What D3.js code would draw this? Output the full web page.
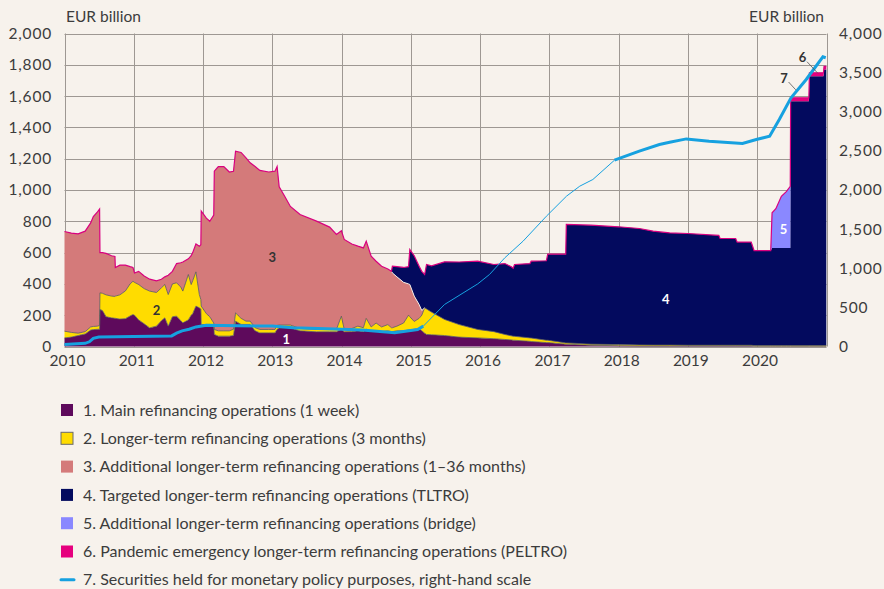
<!DOCTYPE html>
<html>
<head>
<meta charset="utf-8">
<script src="https://cdn.jsdelivr.net/npm/d3@7"></script>
<style>
  body { margin: 0; background: #f7f2ec; }
  svg { display: block; font-family: Lato, "Open Sans", sans-serif; }
</style>
</head>
<body>
<div id="chart"></div>
<script>
// dates of the stacked series (EUR billion, left-hand scale)
var dates = ["2010-01-01","2010-02-06","2010-03-14","2010-04-20","2010-05-19","2010-06-02","2010-06-24","2010-07-05","2010-07-07","2010-07-20",
  "2010-08-08","2010-09-06","2010-09-24","2010-09-26","2010-10-20","2010-11-18","2010-12-13","2010-12-28","2011-01-05","2011-01-27",
  "2011-02-25","2011-03-26","2011-05-01","2011-05-27","2011-06-14","2011-07-02","2011-07-24","2011-08-15","2011-09-06","2011-09-17",
  "2011-10-16","2011-10-31","2011-11-08","2011-11-25","2011-12-13","2011-12-21","2011-12-23","2012-01-19","2012-02-06","2012-02-27",
  "2012-03-01","2012-03-22","2012-04-20","2012-05-19","2012-06-10","2012-06-21","2012-07-20","2012-08-15","2012-09-06","2012-10-02",
  "2012-10-27","2012-12-13","2013-01-15","2013-01-26","2013-02-06","2013-03-07","2013-04-06","2013-05-27","2013-08-22","2013-10-30",
  "2013-12-05","2013-12-31","2014-01-15","2014-02-24","2014-03-28","2014-04-26","2014-05-11","2014-06-06","2014-07-02","2014-07-31",
  "2014-09-02","2014-09-21","2014-09-26","2014-10-20","2014-11-24","2014-12-20","2014-12-27","2015-01-19","2015-02-14","2015-02-28",
  "2015-03-15","2015-03-25","2015-04-20","2015-06-28","2015-09-13","2015-12-20","2016-03-14","2016-05-11","2016-06-14","2016-06-24",
  "2016-07-01","2016-09-20","2016-09-27","2016-12-16","2016-12-23","2017-03-28","2017-03-31","2017-08-08","2018-01-01","2018-04-20",
  "2018-07-02","2018-09-27","2019-01-01","2019-06-13","2019-06-20","2019-09-10","2019-09-18","2019-12-01","2019-12-16","2020-03-13",
  "2020-03-20","2020-04-09","2020-05-08","2020-06-03","2020-06-24","2020-06-26","2020-09-30","2020-10-03","2020-12-16","2020-12-19",
  "2020-12-31"];

// 1. main refinancing operations
var mro = [55,60,70,80,105,108,110,110,236,230, 190,183,180,180,175,178,195,204,200,170,
  145,119,130,165,183,130,190,194,165,151, 170,200,210,258,247,240,140,141,141,130,
  77,66,66,66,70,162,141,141,141,100, 87,87,87,110,119,119,119,100,94,94,
  94,110,94,95,100,95,110,100,100,95, 100,95,95,100,100,105,105,110,115,100,
  85,77,75,70,60,55,50,45,42,40, 40,33,32,25,25,15,15,8,5,3,
  3,3,3,3,3,3,3,3,2,2, 2,2,2,2,2,2,2,2,2,2, 2];
// 2. longer-term refinancing operations (3 months)
var ltro = [43,30,15,15,20,20,20,25,107,110, 140,139,140,142,155,177,205,213,210,226,
  225,235,215,210,213,202,210,213,215,203, 290,196,210,219,85,60,118,69,49,20,
  32,34,34,34,40,53,39,21,21,20, 22,22,22,25,18,18,18,15,15,15,
  15,84,15,20,30,25,70,25,50,30, 40,25,25,30,50,95,85,50,65,100,
  162,163,145,103,80,54,45,32,26,26, 25,22,22,15,15,8,8,7,7,7,
  6,6,5,5,5,5,5,5,4,4, 4,4,4,4,4,4,4,4,4,4, 4];
// 3. additional longer-term refinancing operations (1-36 months)
var altro = [637,635,635,642,665,702,730,743,257,260, 265,258,255,183,190,165,110,88,60,84,
  80,76,75,55,49,123,80,123,155,186, 100,184,180,178,308,350,607,610,610,690,
  1011,1050,1050,1015,1010,1033,1060,1043,1012,1030, 1016,1006,1011,1015,883,823,758,728,692,654,
  607,546,575,540,511,510,493,452,395,388, 355,361,350,315,260,200,206,162,88,30,
  0,0,0,0,0,0,0,0,0,0, 0,0,0,0,0,0,0,0,0,0,
  0,0,0,0,0,0,0,0,0,0, 0,0,0,0,0,0,0,0,0,0, 0];
// 4. targeted longer-term refinancing operations (TLTRO)
var tltro = [0,0,0,0,0,0,0,0,0,0, 0,0,0,0,0,0,0,0,0,0,
  0,0,0,0,0,0,0,0,0,0, 0,0,0,0,0,0,0,0,0,0,
  0,0,0,0,0,0,0,0,0,0, 0,0,0,0,0,0,0,0,0,0,
  0,0,0,0,0,0,0,0,0,0, 0,0,43,65,95,110,224,258,245,250,
  213,284,295,368,400,436,429,453,442,434, 459,475,491,508,550,567,757,760,753,744,
  728,717,714,702,682,682,659,659,607,607, 624,624,624,624,624,1561,1561,1721,1721,1764, 1764];
// 5. additional longer-term refinancing operations (bridge)
var bridge = [];
dates.forEach(function() { bridge.push(0); });
bridge[110] = 224; bridge[111] = 250; bridge[112] = 330; bridge[113] = 360; bridge[114] = 394;
// 6. pandemic emergency longer-term refinancing operations (PELTRO)
var peltro = [];
dates.forEach(function() { peltro.push(0); });
peltro[115] = 22; peltro[116] = 22; peltro[117] = 22; peltro[118] = 22; peltro[119] = 20; peltro[120] = 20;

// 7. securities held for monetary policy purposes (right-hand scale)
var secDates = ["2010-01-01","2010-04-20","2010-05-12","2010-06-02","2010-07-01","2011-01-01","2011-07-20","2011-08-15","2011-09-13","2011-10-20",
  "2011-11-25","2012-01-19","2012-07-01","2013-01-01","2013-04-20","2013-11-24","2014-04-20","2014-10-08","2015-02-06","2015-03-08",
  "2015-06-28","2015-12-20","2016-02-20","2016-05-11","2016-08-15","2016-12-16","2017-04-01","2017-06-10","2017-08-18","2017-12-10",
  "2018-04-20","2018-08-04","2018-09-27","2018-12-24","2019-04-23","2019-10-16","2019-12-28","2020-03-07","2020-04-27","2020-06-28",
  "2020-09-16","2020-12-13","2020-12-28"];
var securities = [25,40,60,105,122,128,135,170,200,220,
  250,270,265,262,240,225,210,175,217,260,
  537,800,920,1134,1346,1665,1921,2049,2134,2381,
  2496,2582,2611,2653,2624,2594,2645,2688,2901,3178,
  3412,3702,3690];

var yearTicks = [2010,2011,2012,2013,2014,2015,2016,2017,2018,2019,2020];
var leftTicks = [0,200,400,600,800,1000,1200,1400,1600,1800,2000];
var rightTicks = [0,500,1000,1500,2000,2500,3000,3500,4000];

var seriesKeys = ["mro","ltro","altro","tltro","bridge","peltro"];
var legendLabels = [
  "1. Main refinancing operations (1 week)",
  "2. Longer-term refinancing operations (3 months)",
  "3. Additional longer-term refinancing operations (1\u201336 months)",
  "4. Targeted longer-term refinancing operations (TLTRO)",
  "5. Additional longer-term refinancing operations (bridge)",
  "6. Pandemic emergency longer-term refinancing operations (PELTRO)",
  "7. Securities held for monetary policy purposes, right-hand scale"
];
var colors = {mro: "#5e0a5c", ltro: "#ffdc00", altro: "#d47a7a", tltro: "#030a5e", bridge: "#8a88ff", peltro: "#e6007e"};
var lineColor = "#16a1e0";

var parse = d3.timeParse("%Y-%m-%d");
var rows = dates.map(function(d, i) {
  return {date: parse(d), mro: mro[i], ltro: ltro[i], altro: altro[i], tltro: tltro[i], bridge: bridge[i], peltro: peltro[i]};
});
var secRows = secDates.map(function(d, i) { return {date: parse(d), value: securities[i]}; });

var W = 884, H = 589;
var plotL = 64.5, plotR = 826.5, plotT = 33.5, plotB = 346.5;

var svg = d3.select("#chart").append("svg")
  .attr("width", W).attr("height", H);

var x = d3.scaleTime()
  .domain([new Date(2010, 0, 1), new Date(2021, 0, 1)])
  .range([plotL, plotR]);
var y = d3.scaleLinear().domain([0, 2000]).range([plotB, plotT]);
var y2 = d3.scaleLinear().domain([0, 4000]).range([plotB, plotT]);

// grid
var grid = svg.append("g");
grid.selectAll(".hg").data(leftTicks).enter().append("line")
  .attr("x1", plotL).attr("x2", plotR)
  .attr("y1", function(d) { return Math.round(y(d)) + 0.5; })
  .attr("y2", function(d) { return Math.round(y(d)) + 0.5; })
  .attr("stroke", "#9e9893").attr("stroke-width", 1);
grid.selectAll(".vg").data(yearTicks.concat([2021])).enter().append("line")
  .attr("x1", function(d) { return Math.round(x(new Date(d, 0, 1))) + 0.5; })
  .attr("x2", function(d) { return Math.round(x(new Date(d, 0, 1))) + 0.5; })
  .attr("y1", plotT).attr("y2", plotB)
  .attr("stroke", "#9e9893").attr("stroke-width", 1);

// stacked areas
var stack = d3.stack().keys(seriesKeys);
var layers = stack(rows);

var area = d3.area()
  .x(function(d) { return x(d.data.date); })
  .y0(function(d) { return y(d[0]); })
  .y1(function(d) { return y(d[1]); });

svg.append("g").selectAll("path")
  .data(layers)
  .enter().append("path")
  .attr("d", area)
  .attr("fill", function(d) { return colors[d.key]; });

var topLine = d3.line()
  .x(function(d) { return x(d.data.date); })
  .y(function(d) { return y(d[1]); });

// thin edges between the lower layers
svg.append("path").datum(layers[0]).attr("d", topLine)
  .attr("fill", "none").attr("stroke", "#5a5a5a").attr("stroke-width", 0.8);
svg.append("path").datum(layers[1]).attr("d", topLine)
  .attr("fill", "none").attr("stroke", "#5a5a5a").attr("stroke-width", 0.8);
// light edge between altro and tltro
svg.append("path").datum(layers[2].filter(function(d) { return d.data.date >= parse("2014-09-21") && d.data.date <= parse("2015-03-15"); }))
  .attr("d", topLine)
  .attr("fill", "none").attr("stroke", "#f3ece6").attr("stroke-width", 1);
// magenta outline on the total
svg.append("path").datum(layers[5]).attr("d", topLine)
  .attr("fill", "none").attr("stroke", "#d9007f").attr("stroke-width", 1.2);

// securities line, right-hand scale
var secLine = d3.line()
  .x(function(d) { return x(d.date); })
  .y(function(d) { return y2(d.value); });
var thinStart = parse("2015-03-08"), thinEnd = parse("2017-12-10");
svg.append("path").datum(secRows.filter(function(d) { return d.date <= thinStart; }))
  .attr("d", secLine).attr("fill", "none").attr("stroke", lineColor).attr("stroke-width", 3);
svg.append("path").datum(secRows.filter(function(d) { return d.date >= thinStart && d.date <= thinEnd; }))
  .attr("d", secLine).attr("fill", "none").attr("stroke", lineColor).attr("stroke-width", 1);
svg.append("path").datum(secRows.filter(function(d) { return d.date >= thinEnd; }))
  .attr("d", secLine).attr("fill", "none").attr("stroke", lineColor).attr("stroke-width", 3);

// series numbers
function yr(v) { return new Date(Math.floor(v), 0, 1 + Math.round((v % 1) * 365)); }
var numLabels = [
  {t: "1", x: x(yr(2013.2)), y: y(45), c: "#fff"},
  {t: "2", x: x(yr(2011.33)), y: y(230), c: "#333"},
  {t: "3", x: x(yr(2013.0)), y: y(570), c: "#333"},
  {t: "4", x: x(yr(2018.68)), y: y(300), c: "#fff"},
  {t: "5", x: x(yr(2020.38)), y: y(745), c: "#fff"},
  {t: "6", x: x(yr(2020.655)), y: y(1850), c: "#333"},
  {t: "7", x: x(yr(2020.39)), y: y(1715), c: "#333"}
];
svg.append("g").selectAll("text").data(numLabels).enter().append("text")
  .attr("x", function(d) { return d.x; })
  .attr("y", function(d) { return d.y; })
  .attr("text-anchor", "middle").attr("dy", "0.35em")
  .attr("font-size", 13).attr("font-weight", "bold")
  .attr("fill", function(d) { return d.c; })
  .text(function(d) { return d.t; });
// leader lines for 6 and 7
svg.append("line")
  .attr("x1", x(yr(2020.72))).attr("y1", y(1820))
  .attr("x2", x(yr(2020.88))).attr("y2", y(1745))
  .attr("stroke", "#555").attr("stroke-width", 0.8);
svg.append("line")
  .attr("x1", x(yr(2020.455))).attr("y1", y(1690))
  .attr("x2", x(yr(2020.56))).attr("y2", y(1640))
  .attr("stroke", "#555").attr("stroke-width", 0.8);

// axes labels
var fmt = d3.format(",");
svg.append("g").selectAll("text").data(leftTicks).enter().append("text")
  .attr("x", 52).attr("y", function(d) { return y(d); })
  .attr("dy", "0.35em").attr("text-anchor", "end")
  .attr("font-size", 15.5).attr("letter-spacing", 0.8).attr("fill", "#3c3c3c")
  .text(function(d) { return fmt(d); });
svg.append("g").selectAll("text").data(rightTicks).enter().append("text")
  .attr("x", 839).attr("y", function(d) { return y2(d); })
  .attr("dy", "0.35em").attr("text-anchor", "start")
  .attr("font-size", 15.5).attr("letter-spacing", 0.8).attr("fill", "#3c3c3c")
  .text(function(d) { return fmt(d); });
svg.append("g").selectAll("text").data(yearTicks).enter().append("text")
  .attr("x", function(d) { return x(new Date(d, 0, 1)) + 3; })
  .attr("y", 361).attr("dy", "0.35em").attr("text-anchor", "middle")
  .attr("font-size", 15.5).attr("fill", "#3c3c3c")
  .text(function(d) { return d; });

svg.append("text").attr("x", 66).attr("y", 17).attr("dy", "0.35em")
  .attr("font-size", 15.5).attr("fill", "#3c3c3c").text("EUR billion");
svg.append("text").attr("x", 824).attr("y", 17).attr("dy", "0.35em").attr("text-anchor", "end")
  .attr("font-size", 15.5).attr("fill", "#3c3c3c").text("EUR billion");

// legend
var legend = svg.append("g");
legendLabels.forEach(function(label, i) {
  var ly = 410 + i * 28.3;
  if (i < 6) {
    legend.append("rect")
      .attr("x", 61).attr("y", ly - 6).attr("width", 12).attr("height", 12)
      .attr("fill", colors[seriesKeys[i]])
      .attr("stroke", i == 1 ? "#6a6a6a" : "none").attr("stroke-width", 1);
  } else {
    legend.append("line")
      .attr("x1", 61).attr("x2", 74).attr("y1", ly).attr("y2", ly)
      .attr("stroke", lineColor).attr("stroke-width", 3).attr("stroke-linecap", "round");
  }
  legend.append("text")
    .attr("x", 83).attr("y", ly).attr("dy", "0.35em")
    .attr("font-size", 16).attr("fill", "#3c3c3c")
    .text(label);
});
</script>
</body>
</html>
